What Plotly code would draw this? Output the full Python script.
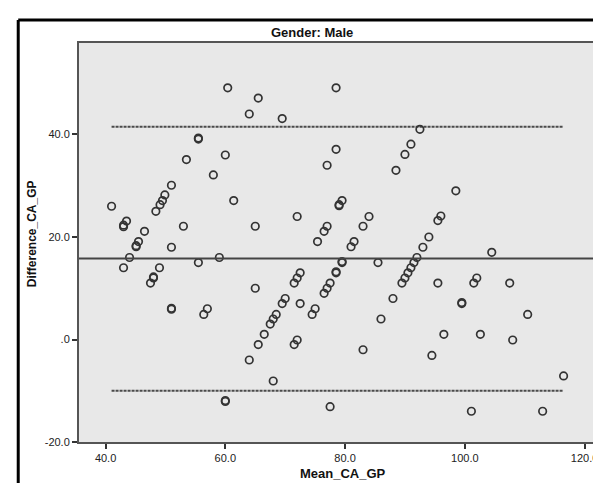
import plotly.graph_objects as go

# ---- data ----
mean_ca_gp = [
    41.0, 43.0, 43.0, 43.0, 43.5, 44.0, 45.1, 45.1, 45.5, 46.5,
    47.5, 48.0, 48.0, 48.4, 49.0, 49.1, 49.5, 49.9, 51.0, 51.0,
    51.0, 51.0, 53.0, 53.5, 55.5, 55.5, 55.5, 56.4, 57.0, 58.0,
    59.0, 60.0, 60.0, 60.0, 60.4, 61.4,
    64.0, 65.5, 69.5, 65.0, 65.0, 64.0, 65.5, 66.5, 67.5, 68.0,
    68.5, 68.0, 69.5, 70.0, 71.5, 72.0, 72.5, 72.0, 72.5, 72.0,
    71.5, 74.5, 75.0, 75.4, 76.5, 77.0, 76.5, 77.0, 77.5, 78.5,
    78.5, 79.5, 79.5, 77.5, 77.0, 78.5, 78.5, 79.0, 79.0, 79.5,
    81.0, 81.5, 83.0, 84.0, 83.0, 85.5, 86.0, 88.0, 88.5, 90.0,
    91.0, 92.5,
    89.5, 90.0, 90.5, 91.0, 91.5, 92.0, 93.0, 94.0, 95.5, 96.0,
    98.5, 95.5, 94.5, 96.5, 99.5, 99.5, 101.5, 102.0, 101.1, 102.6,
    104.5, 107.5, 108.0, 110.5, 113.0, 116.5,
]
difference_ca_gp = [
    26.0, 14.0, 22.0, 22.3, 23.1, 16.0, 18.1, 18.3, 19.1, 21.1,
    11.0, 12.0, 12.2, 25.0, 14.0, 26.3, 27.1, 28.2, 30.1, 18.0,
    5.9, 6.1, 22.1, 35.1, 39.1, 39.3, 15.0, 4.9, 6.0, 32.1,
    16.0, 36.0, -12.1, -11.9, 49.1, 27.1,
    44.0, 47.1, 43.1, 22.1, 10.0, -4.0, -1.0, 1.0, 3.0, 4.0,
    4.9, -8.1, 7.0, 8.0, 11.0, 12.0, 13.0, 24.0, 7.0, -0.1,
    -1.0, 4.9, 6.0, 19.1, 21.1, 22.1, 9.0, 10.0, 11.0, 13.0,
    13.2, 15.0, 15.2, -13.1, 34.0, 37.1, 49.1, 26.1, 26.3, 27.1,
    18.1, 19.1, 22.1, 24.0, -2.0, 15.0, 4.0, 8.0, 33.0, 36.1,
    38.1, 41.0,
    11.0, 12.0, 13.0, 14.0, 15.0, 16.0, 18.0, 20.0, 23.2, 24.1,
    29.0, 11.0, -3.1, 1.0, 7.0, 7.2, 11.0, 12.0, -14.0, 1.0,
    17.0, 11.0, -0.1, 4.9, -14.0, -7.1,
]
mean_difference = 15.8
upper_limit = 41.5
lower_limit = -10.0

x_ticks = [40, 60, 80, 100, 120]
x_tick_labels = ["40.0", "60.0", "80.0", "100.0", "120.0"]
y_ticks = [-20, 0, 20, 40]
y_tick_labels = ["-20.0", ".0", "20.0", "40.0"]

# ---- figure ----
W, H = 601, 483
L, R, T, B = 71, 0, 35, 49
pw, ph = W - L - R, H - T - B

fig = go.Figure()

x_lo, x_hi = min(mean_ca_gp), max(mean_ca_gp)
for lim in (upper_limit, lower_limit):
    fig.add_trace(go.Scatter(
        x=[x_lo, x_hi], y=[lim, lim], mode="lines",
        line=dict(color="#4a4a4a", width=2, dash="3px,1px"),
        hoverinfo="skip", showlegend=False))

fig.add_shape(type="line", xref="paper", x0=0, x1=1, yref="y",
              y0=mean_difference, y1=mean_difference,
              line=dict(color="#444444", width=1.8), layer="above")

fig.add_trace(go.Scatter(
    x=mean_ca_gp, y=difference_ca_gp, mode="markers",
    marker=dict(symbol="circle-open", size=7.5, color="#333333",
                line=dict(width=1.7, color="#333333")),
    showlegend=False))

axis_font = dict(family="Liberation Sans, Arial, sans-serif", size=11, color="#222222")

fig.update_xaxes(range=[35.56, 123.75], tickmode="array", tickvals=x_ticks,
                 ticktext=x_tick_labels, showgrid=False, zeroline=False,
                 showline=True, mirror=True, linecolor="#555555", linewidth=2,
                 ticks="outside", ticklen=5, tickwidth=1.5, tickcolor="#333333",
                 tickfont=axis_font)
fig.update_yaxes(range=[-20, 57.85], tickmode="array", tickvals=y_ticks,
                 ticktext=y_tick_labels, showgrid=False, zeroline=False,
                 showline=True, mirror=True, linecolor="#555555", linewidth=2,
                 ticks="outside", ticklen=5, tickwidth=1.5, tickcolor="#333333",
                 tickfont=axis_font)

def px_x(px):
    return (px - L) / pw

def px_y(py):
    return (H - B - py) / ph

fig.add_annotation(text="<b>Gender: Male</b>", xref="paper", yref="paper",
                   x=px_x(305), y=px_y(25), showarrow=False,
                   xanchor="center", yanchor="middle",
                   font=dict(family="Liberation Sans Narrow, Liberation Sans, Arial, sans-serif",
                             size=13, color="#111111"))
fig.add_annotation(text="<b>Mean_CA_GP</b>", xref="paper", yref="paper",
                   x=px_x(336), y=px_y(465), showarrow=False,
                   xanchor="center", yanchor="middle",
                   font=dict(family="Liberation Sans, Arial, sans-serif", size=13, color="#111111"))
fig.add_annotation(text="<b>Difference_CA_GP</b>", xref="paper", yref="paper",
                   x=px_x(24), y=px_y(226), showarrow=False, textangle=-90,
                   xanchor="center", yanchor="middle",
                   font=dict(family="Liberation Sans, Arial, sans-serif", size=12, color="#111111"))

# outer chart frame (left and top edges visible)
fig.add_shape(type="line", xref="paper", yref="paper",
              x0=px_x(10), x1=px_x(10), y0=px_y(12), y1=px_y(490),
              line=dict(color="#000000", width=3))
fig.add_shape(type="line", xref="paper", yref="paper",
              x0=px_x(10), x1=px_x(610), y0=px_y(12), y1=px_y(12),
              line=dict(color="#000000", width=3))

fig.update_layout(width=W, height=H,
                  margin=dict(l=L, r=R, t=T, b=B, pad=0),
                  paper_bgcolor="#ffffff", plot_bgcolor="#e8e8e8",
                  showlegend=False)

fig.write_html("out.html")
